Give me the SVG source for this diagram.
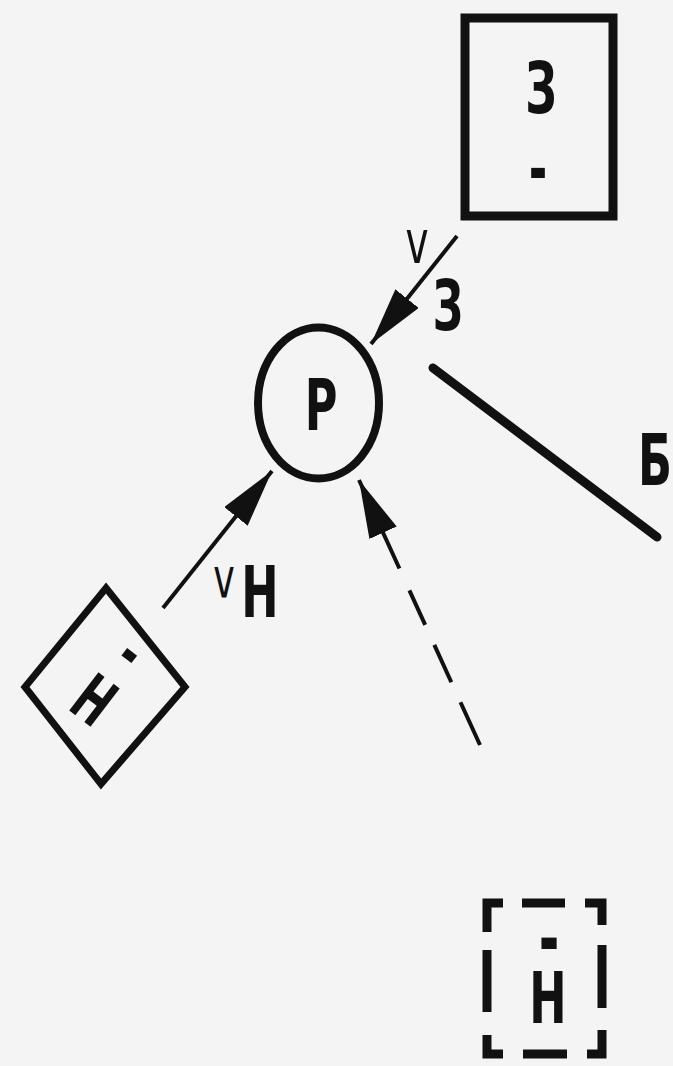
<svg xmlns="http://www.w3.org/2000/svg" width="673" height="1066" viewBox="0 0 673 1066">
  <style>
    .bg { fill: #f4f4f4; }
    .ln { fill: none; stroke: #111; stroke-linecap: butt; stroke-linejoin: miter; }
    .t { font-family: "DejaVu Sans", "Liberation Sans", sans-serif; font-weight: bold; font-size: 72px; fill: #111; text-anchor: middle; }
    .s { font-family: "DejaVu Sans", "Liberation Sans", sans-serif; font-weight: normal; font-size: 56px; fill: #111; text-anchor: middle; }
    .arrow { fill: none; stroke: #111; stroke-width: 4; }
  </style>
  <defs>
    <marker id="ah" markerUnits="userSpaceOnUse" viewBox="0 0 58 30" markerWidth="58" markerHeight="30" refX="58" refY="15" orient="auto">
      <path d="M0,0 L58,15 L0,30 Z" fill="#111"/>
    </marker>
  </defs>
  <rect class="bg" x="0" y="0" width="673" height="1066"/>

  <g id="node-Z">
    <rect class="ln" x="465" y="18" width="148" height="198" stroke-width="9"/>
    <text class="t" transform="translate(541,113) scale(0.62,1)">З</text>
    <text class="t" transform="translate(538,193) scale(0.62,1)">-</text>
  </g>

  <g id="node-P">
    <ellipse class="ln" cx="318.5" cy="403" rx="60.5" ry="75.5" stroke-width="8"/>
    <text class="t" transform="translate(321,430) scale(0.62,1)">Р</text>
  </g>

  <g id="node-B">
    <line x1="433" y1="368" x2="657" y2="537" stroke="#111" stroke-width="9" stroke-linecap="round"/>
    <text class="t" transform="translate(655,485) scale(0.62,1)">Б</text>
  </g>

  <g id="node-N-prime">
    <polygon class="ln" points="106,588 185,687 101,784 25,687" stroke-width="7"/>
    <g transform="translate(94.5,699.5) rotate(37.4)">
      <text class="t" style="font-size:66px" transform="translate(0,24) scale(0.62,1)">Н</text>
      <text class="t" style="font-size:66px" transform="translate(1,-37) scale(0.62,1)">-</text>
    </g>
  </g>

  <g id="node-N-bar">
    <g class="ln" stroke-width="9">
      <path d="M487,932 V903 H503"/>
      <path d="M522,903 H565"/>
      <path d="M585,903 H602 V925"/>
      <path d="M487,950 V1012"/>
      <path d="M602,945 V1008"/>
      <path d="M487,1035 V1054 H503"/>
      <path d="M523,1054 H567"/>
      <path d="M587,1054 H602 V1030"/>
    </g>
    <text class="t" transform="translate(548,0) scale(0.62,1)"><tspan x="1.5" y="966" style="font-size:80px">-</tspan><tspan x="0" y="1023">Н</tspan></text>
  </g>

  <g id="connectors">
    <path class="arrow" d="M457,236 L371,344" marker-end="url(#ah)"/>
    <path class="arrow" d="M163,608 L272,471" marker-end="url(#ah)"/>
    <path class="arrow" d="M480,745 L359,480" stroke-dasharray="47 22 41 22 38 24 200" marker-end="url(#ah)"/>
    <text class="s" style="font-size:60px" transform="translate(417,263) scale(0.65,1)">v</text>
    <text class="t" style="font-size:69px" transform="translate(448,330) scale(0.62,1)">З</text>
    <text class="s" transform="translate(224,597) scale(0.65,1)">v</text>
    <text class="t" transform="translate(260,617) scale(0.62,1)">Н</text>
  </g>
</svg>
